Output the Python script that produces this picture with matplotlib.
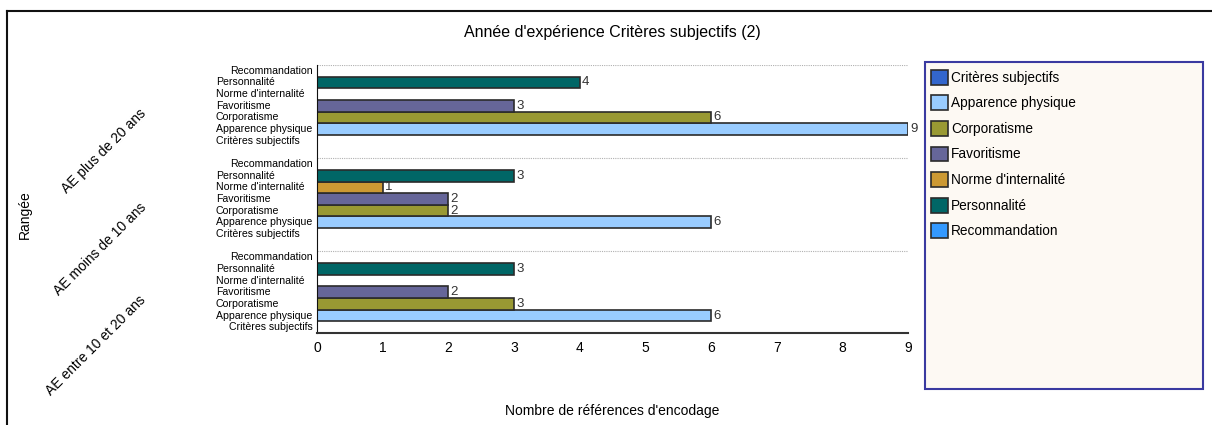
import matplotlib.pyplot as plt
from matplotlib.lines import Line2D
from matplotlib.patches import Patch, Rectangle
from matplotlib.transforms import blended_transform_factory

plt.rcParams['font.family'] = ['Liberation Sans', 'DejaVu Sans']

# categories from bottom to top inside each group
categories = ["Critères subjectifs", "Apparence physique", "Corporatisme",
              "Favoritisme", "Norme d'internalité", "Personnalité", "Recommandation"]
colors = ["#3366cc", "#99ccff", "#999933", "#666699", "#cc9933", "#006666", "#3399ff"]

# groups from bottom to top
groups = ["AE entre 10 et 20 ans", "AE moins de 10 ans", "AE plus de 20 ans"]
entre_10_20 = [0, 6, 3, 2, 0, 3, 0]
moins_10 = [0, 6, 2, 2, 1, 3, 0]
plus_20 = [0, 9, 6, 3, 0, 4, 0]
values = [entre_10_20, moins_10, plus_20]

xticks = list(range(10))

# tick label alignment (the long ones sit flush against the axis)
right_aligned = {"Recommandation", "Apparence physique"}

W, H = 1212, 425
fig = plt.figure(figsize=(W / 100, H / 100), dpi=100)
ax = fig.add_axes([317 / W, 1 - 333 / H, 591 / W, 268 / H])

step = len(categories) + 1
trans = blended_transform_factory(ax.transAxes, ax.transData)
for g, (name, vals) in enumerate(zip(groups, values)):
    base = g * step
    for i, (cat, v) in enumerate(zip(categories, vals)):
        y = base + i
        if v > 0:
            ax.barh(y, v, height=1.0, color=colors[i], edgecolor="#2b2b2b", linewidth=1.2)
            ax.text(v + 0.03, y, str(v), va="center", ha="left", fontsize=9.5, color="#333333")
        if cat in right_aligned or (g == 0 and cat == "Critères subjectifs"):
            ax.text(-0.008, y, cat, transform=trans, ha="right", va="center", fontsize=7.6)
        else:
            ax.text(-0.171, y, cat, transform=trans, ha="left", va="center", fontsize=7.6)
    # dotted separator above each group
    ax.plot([0, 9], [base + 6.5, base + 6.5], ls=(0, (1, 1)), color="#b0b0b0", lw=0.8)
    # rotated group label
    ax.text(-0.293, base + 2.5, name, transform=trans, rotation=45, rotation_mode="anchor",
            ha="right", va="center", fontsize=10)

ax.set_xlim(0, 9)
ax.set_ylim(-0.5, 2 * step + 6.5)
ax.set_xticks(xticks)
ax.set_xticklabels([str(t) for t in xticks], fontsize=10)
ax.set_yticks([])
ax.tick_params(axis="x", length=0, pad=6)
for side in ["top", "right"]:
    ax.spines[side].set_visible(False)
ax.spines["left"].set_color("#111111")
ax.spines["bottom"].set_color("#333333")
ax.spines["bottom"].set_linewidth(1.5)

fig.text(612 / W, 1 - 33 / H, "Année d'expérience Critères subjectifs (2)",
         ha="center", va="center", fontsize=11.5)
fig.text(612 / W, 1 - 411 / H, "Nombre de références d'encodage",
         ha="center", va="center", fontsize=10)
fig.text(25 / W, 1 - 215 / H, "Rangée", rotation=90, ha="center", va="center", fontsize=10)

# frame lines along the top and left of the figure
fig.add_artist(Line2D([7 / W, 7 / W], [0, 1 - 11 / H], color="#111111", lw=1.5,
                      transform=fig.transFigure))
fig.add_artist(Line2D([7 / W, 1], [1 - 11 / H, 1 - 11 / H], color="#111111", lw=1.5,
                      transform=fig.transFigure))

# legend panel
fig.add_artist(Rectangle((925 / W, 1 - 389 / H), (1203 - 925) / W, (389 - 62) / H,
                         facecolor="#fdf9f3", edgecolor="#3a3aa0", linewidth=1.5,
                         transform=fig.transFigure, zorder=0))
handles = [Patch(facecolor=c, edgecolor="#2b2b2b", linewidth=1.2) for c in colors]
leg = fig.legend(handles, categories, loc="upper left",
                 bbox_to_anchor=(928 / W, 1 - 67 / H), fontsize=9.8,
                 handlelength=1.3, handleheight=1.3, handletextpad=0.2,
                 labelspacing=0.78, borderpad=0.2, borderaxespad=0,
                 frameon=False)

fig.savefig("out.png", dpi=100)
